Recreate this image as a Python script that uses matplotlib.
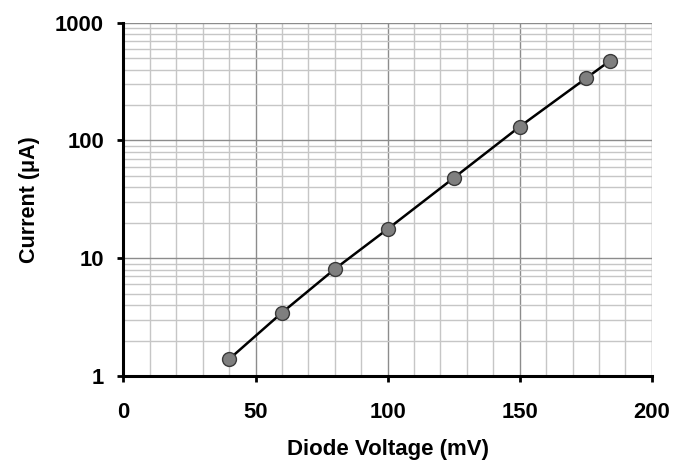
import matplotlib.pyplot as plt
import numpy as np
from matplotlib.ticker import LogLocator, MultipleLocator, NullFormatter, FixedLocator

plt.rcParams['font.family'] = ['Liberation Sans', 'DejaVu Sans']

# diode voltage (mV) vs current (uA)
voltage = [40, 60, 80, 100, 125, 150, 175, 184]
current = [1.39, 3.45, 8.1, 17.7, 48, 131, 336, 472]

fig = plt.figure(figsize=(6.73, 4.61), dpi=100)
ax = fig.add_axes([0.1835, 0.1844, 0.785, 0.7664])

ax.set_yscale('log')
ax.set_xlim(0, 200)
ax.set_ylim(1, 1000)

ax.xaxis.set_major_locator(MultipleLocator(50))
ax.xaxis.set_minor_locator(MultipleLocator(10))
ax.yaxis.set_major_locator(FixedLocator([1, 10, 100, 1000]))
ax.yaxis.set_minor_locator(LogLocator(base=10, subs=np.arange(2, 10)))
ax.yaxis.set_minor_formatter(NullFormatter())
ax.set_yticklabels(['1', '10', '100', '1000'])

ax.grid(True, which='minor', color='#c6c6c6', linewidth=1.0)
ax.grid(True, which='major', color='#8c8c8c', linewidth=1.0)
ax.set_axisbelow(True)

ax.plot(voltage, current, color='black', linewidth=1.8, marker='o',
        markersize=10, markerfacecolor='#7f7f7f', markeredgecolor='#3a3a3a',
        markeredgewidth=1.0)

for s in ['top', 'right']:
    ax.spines[s].set_visible(False)
for s in ['left', 'bottom']:
    ax.spines[s].set_linewidth(2.2)
    ax.spines[s].set_color('black')

ax.tick_params(which='major', direction='out', length=4, width=2, labelsize=15.8)
ax.tick_params(axis='y', pad=10)
ax.tick_params(axis='x', pad=14.5)
ax.tick_params(which='minor', length=0)
for lbl in ax.get_xticklabels() + ax.get_yticklabels():
    lbl.set_fontweight('bold')

ax.set_xlabel('Diode Voltage (mV)', fontsize=16, fontweight='bold', labelpad=12)
ax.set_ylabel('Current (μA)', fontsize=15.5, fontweight='bold', labelpad=11)

fig.savefig('out.png', dpi=100)
